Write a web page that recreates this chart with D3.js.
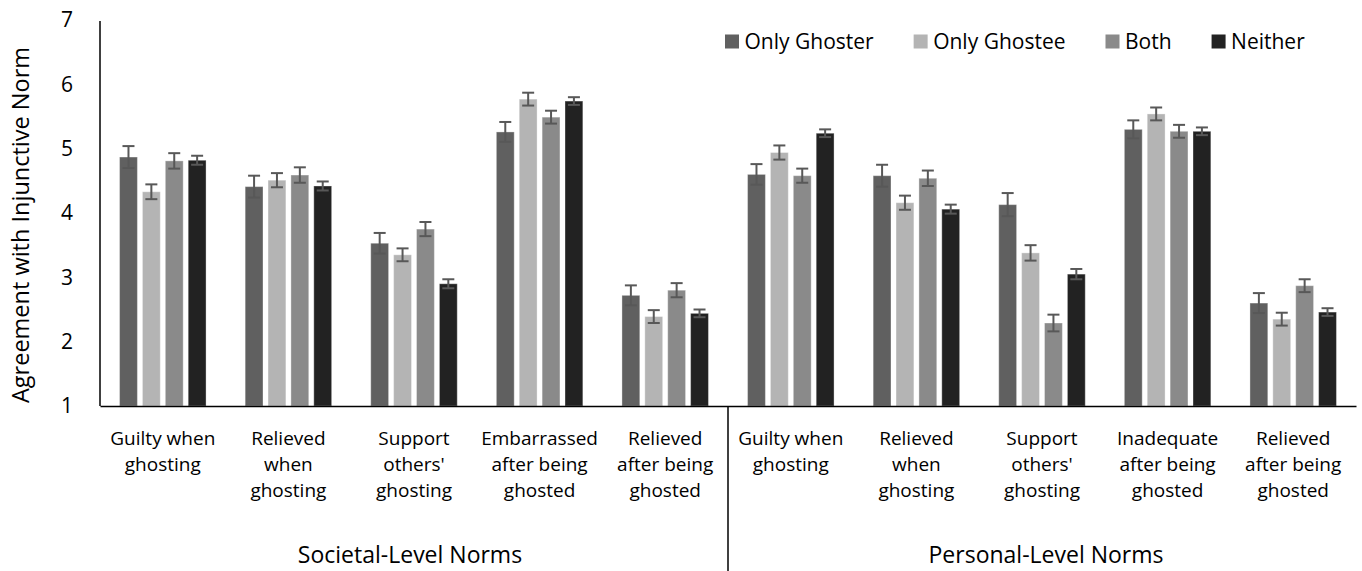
<!DOCTYPE html>
<html>
<head>
<meta charset="utf-8">
<script src="https://cdn.jsdelivr.net/npm/d3@7"></script>
<style>
  html, body { margin: 0; padding: 0; background: #fff; }
  svg text { font-family: "Open Sans", sans-serif; fill: #000; }
</style>
</head>
<body>
<svg id="chart" width="1362" height="571"></svg>
<script>
// ---------- data ----------
const categoryLines = [
  ["Guilty when", "ghosting"],
  ["Relieved", "when", "ghosting"],
  ["Support", "others'", "ghosting"],
  ["Embarrassed", "after being", "ghosted"],
  ["Relieved", "after being", "ghosted"],
  ["Guilty when", "ghosting"],
  ["Relieved", "when", "ghosting"],
  ["Support", "others'", "ghosting"],
  ["Inadequate", "after being", "ghosted"],
  ["Relieved", "after being", "ghosted"]
];
const groupLabels = ["Societal-Level Norms", "Personal-Level Norms"];
const seriesNames = ["Only Ghoster", "Only Ghostee", "Both", "Neither"];
const seriesColors = ["#606060", "#b4b4b4", "#8a8a8a", "#222222"];

const onlyGhoster = [4.87, 4.41, 3.53, 5.26, 2.72, 4.60, 4.58, 4.13, 5.30, 2.60];
const onlyGhostee = [4.33, 4.51, 3.35, 5.77, 2.39, 4.94, 4.16, 3.38, 5.54, 2.35];
const both        = [4.81, 4.59, 3.75, 5.49, 2.80, 4.58, 4.54, 2.29, 5.27, 2.87];
const neither     = [4.82, 4.42, 2.90, 5.74, 2.44, 5.24, 4.06, 3.05, 5.27, 2.46];

const onlyGhosterErr = [0.17, 0.17, 0.16, 0.155, 0.155, 0.16, 0.17, 0.18, 0.14, 0.155];
const onlyGhosteeErr = [0.115, 0.11, 0.10, 0.10, 0.10, 0.11, 0.11, 0.12, 0.10, 0.10];
const bothErr        = [0.12, 0.12, 0.11, 0.10, 0.11, 0.11, 0.12, 0.13, 0.10, 0.10];
const neitherErr     = [0.07, 0.07, 0.07, 0.06, 0.06, 0.06, 0.07, 0.08, 0.06, 0.06];

const yTicks = [1, 2, 3, 4, 5, 6, 7];
const yLabel = "Agreement with Injunctive Norm";

// ---------- build ----------
const seriesValues = [onlyGhoster, onlyGhostee, both, neither];
const seriesErrs = [onlyGhosterErr, onlyGhosteeErr, bothErr, neitherErr];
const catIds = categoryLines.map((d, i) => "c" + i);

const svg = d3.select("#chart");
const plotLeft = 100, plotRight = 1356, plotTop = 20, plotBottom = 406;

const y = d3.scaleLinear().domain([1, 7]).range([plotBottom, plotTop]);
const x0 = d3.scaleBand().domain(catIds).range([plotLeft, plotRight]).paddingInner(0).paddingOuter(0);
const innerW = 86.5;
const x1 = d3.scaleBand().domain(seriesNames)
  .range([x0.bandwidth() / 2 - innerW / 2, x0.bandwidth() / 2 + innerW / 2])
  .paddingInner(0.22).paddingOuter(0);

const rows = [];
catIds.forEach((c, i) => {
  seriesNames.forEach((s, j) => {
    rows.push({ cat: c, series: s, v: seriesValues[j][i], e: seriesErrs[j][i], color: seriesColors[j] });
  });
});

// bars
svg.append("g").selectAll("rect").data(rows).join("rect")
  .attr("x", d => x0(d.cat) + x1(d.series))
  .attr("y", d => y(d.v))
  .attr("width", x1.bandwidth())
  .attr("height", d => y(1) - y(d.v))
  .attr("fill", d => d.color)
  .attr("stroke", "#ffffff")
  .attr("stroke-opacity", 0.35)
  .attr("stroke-width", 1);

// error bars
const eb = svg.append("g").attr("stroke", "#585858").attr("stroke-width", 2);
const capW = 12;
rows.forEach(d => {
  const cx = x0(d.cat) + x1(d.series) + x1.bandwidth() / 2;
  eb.append("line").attr("x1", cx).attr("x2", cx).attr("y1", y(d.v + d.e)).attr("y2", y(d.v - d.e));
  eb.append("line").attr("x1", cx - capW / 2).attr("x2", cx + capW / 2).attr("y1", y(d.v + d.e)).attr("y2", y(d.v + d.e));
  eb.append("line").attr("x1", cx - capW / 2).attr("x2", cx + capW / 2).attr("y1", y(d.v - d.e)).attr("y2", y(d.v - d.e));
});

// y axis
const yAxis = d3.axisLeft(y).tickValues(yTicks).tickSize(0).tickPadding(27).tickFormat(d3.format("d"));
const yg = svg.append("g").attr("transform", `translate(${plotLeft},0)`).call(yAxis);
yg.select(".domain").remove();
yg.selectAll("text").attr("font-size", 21).attr("font-family", "Open Sans").attr("fill", "#000");
svg.append("line").attr("x1", plotLeft).attr("x2", plotLeft).attr("y1", y(7) + 1).attr("y2", plotBottom)
  .attr("stroke", "#000").attr("stroke-width", 1.5);

// x axis line
const xAxis = d3.axisBottom(x0).tickSize(0).tickFormat("");
const xg = svg.append("g").attr("transform", `translate(0,${plotBottom})`).call(xAxis);
xg.select(".domain").attr("stroke", "#000").attr("stroke-width", 1.5);

// category labels
const catG = svg.append("g");
catIds.forEach((c, i) => {
  const cx = x0(c) + x0.bandwidth() / 2;
  const t = catG.append("text").attr("text-anchor", "middle").attr("font-size", 19);
  categoryLines[i].forEach((line, k) => {
    t.append("tspan").attr("x", cx).attr("y", 445 + k * 25.8).text(line);
  });
});

// separator between groups
const sepX = x0(catIds[5]);
svg.append("line").attr("x1", sepX).attr("x2", sepX).attr("y1", plotBottom).attr("y2", 571)
  .attr("stroke", "#000").attr("stroke-width", 1.5);

// group labels
groupLabels.forEach((g, i) => {
  const a = x0(catIds[i * 5]);
  const b = x0(catIds[i * 5 + 4]) + x0.bandwidth();
  svg.append("text").attr("x", (a + b) / 2 - (i === 0 ? 4 : -4)).attr("y", 563).attr("text-anchor", "middle")
    .attr("font-size", 23).text(g);
});

// y label
svg.append("text")
  .attr("transform", `translate(28.5,${(y(7) + y(1)) / 2 + 12}) rotate(-90)`)
  .attr("text-anchor", "middle").attr("font-size", 23.5).text(yLabel);

// legend
const lg = svg.append("g");
let lx = 725;
seriesNames.forEach((s, j) => {
  lg.append("rect").attr("x", lx).attr("y", 34.5).attr("width", 14).attr("height", 14).attr("fill", seriesColors[j]);
  const t = lg.append("text").attr("x", lx + 19.5).attr("y", 48.5).attr("font-size", 21).text(s);
  lx += 19.5 + t.node().getComputedTextLength() + 40;
});
</script>
</body>
</html>
